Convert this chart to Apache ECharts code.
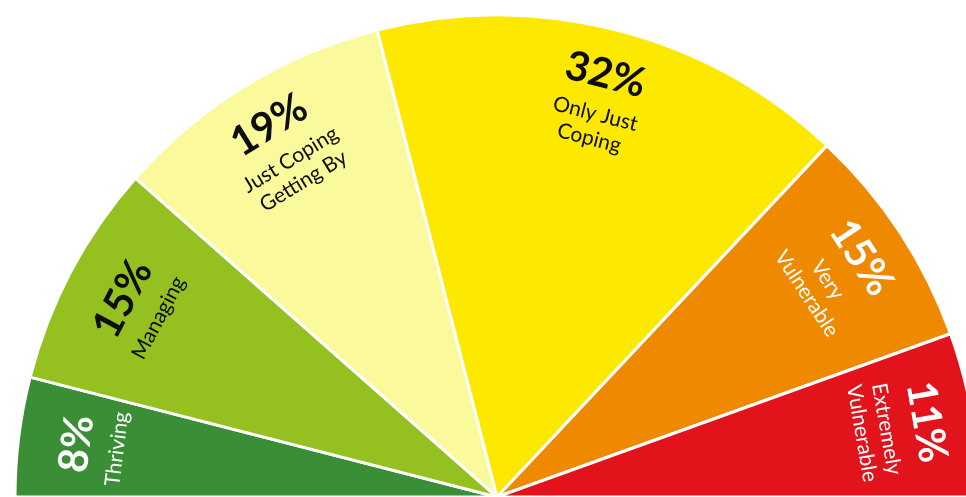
<!DOCTYPE html>
<html lang="en">
<head>
    <meta charset="UTF-8">
    <title>Resilience</title>
    <script src="https://cdn.jsdelivr.net/npm/echarts@6/dist/echarts.min.js"></script>
    <style>
        html, body { margin: 0; padding: 0; background: #fff; }
    </style>
</head>
<body>
    <div id="main" style="width: 966px;height:497px;"></div>

<script type="text/javascript">
    // data
    var categories = ['Thriving', 'Managing', 'Just Coping Getting By', 'Only Just Coping', 'Very Vulnerable', 'Extremely Vulnerable'];
    var values = [8, 15, 19, 32, 15, 11];
    var subtitles = ['Thriving', 'Managing', 'Just Coping\nGetting By', 'Only Just\nCoping', 'Very\nVulnerable', 'Extremely\nVulnerable'];

    var colors = ['#3a8e36', '#94c11f', '#fafa9c', '#fde900', '#ee8900', '#e2131b'];
    var textColors = ['#fff', '#0d0d0d', '#0d0d0d', '#0d0d0d', '#fff', '#fff'];

    var myChart = echarts.init(document.getElementById('main'));

    var slices = values.map(function (v, i) {
        return { name: categories[i], value: v, itemStyle: { color: colors[i] } };
    });

    // second ring only carries the labels, so they sit near the outer edge
    var labels = values.map(function (v, i) {
        return {
            name: categories[i],
            value: v,
            label: {
                formatter: '{p|' + v + '%}\n{t|' + subtitles[i].split('\n').join('}\n{t|') + '}',
                rich: {
                    p: { fontFamily: 'Lato', fontWeight: 'bold', fontSize: 41, lineHeight: 56, color: textColors[i], align: 'center' },
                    t: { fontFamily: 'Lato', fontSize: 21, lineHeight: 25, color: textColors[i], align: 'center' }
                }
            }
        };
    });

    var option = {
        animation: false,
        series: [
            {
                type: 'pie',
                center: [497, 497],
                radius: [0, 482],
                startAngle: 180,
                endAngle: 0,
                clockwise: true,
                silent: true,
                itemStyle: { borderColor: '#fff', borderWidth: 3 },
                label: { show: false },
                labelLine: { show: false },
                data: slices
            },
            {
                type: 'pie',
                center: [497, 497],
                radius: [334, 482],
                startAngle: 180,
                endAngle: 0,
                clockwise: true,
                silent: true,
                itemStyle: { color: 'transparent', borderWidth: 0 },
                label: { show: true, position: 'inside', rotate: 'tangential' },
                labelLine: { show: false },
                data: labels
            }
        ]
    };
    myChart.setOption(option);
</script>
</body>
</html>
